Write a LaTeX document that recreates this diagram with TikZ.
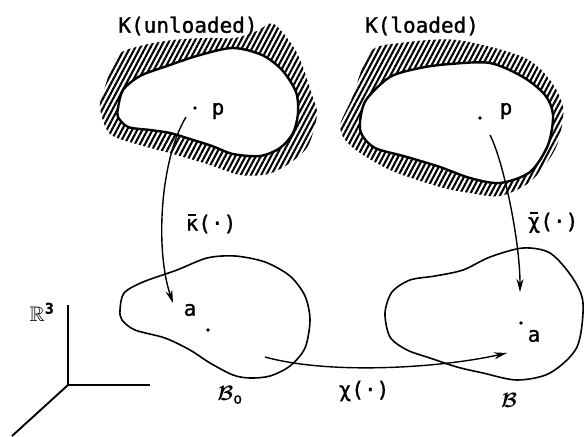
\documentclass[tikz,border=0pt]{standalone}
\usepackage{amsmath,amssymb}
\usepackage{fontspec}
\setmainfont[FakeBold=1.2]{DejaVu Sans Mono}
\usepackage{tikz}
\usetikzlibrary{arrows.meta,patterns.meta}
\newcommand{\ovbar}[1]{\ooalign{#1\cr\hfil\raisebox{0.7em}{\rule{0.4em}{1.6pt}}\hfil\cr}}

\begin{document}
\begin{tikzpicture}[
        x=1pt, y=-1pt,
        font=\fontsize{21}{24}\selectfont,
        hatch/.style={pattern={Lines[angle=62,distance=4.5pt,line width=2.1pt]}, even odd rule},
        inner/.style={line width=2.4pt, line join=round},
        body/.style={line width=1.6pt, line join=round},
        map/.style={line width=1.4pt, -{Stealth[length=13pt,width=7pt]}},
        axis/.style={line width=1.9pt},
        spot/.style={circle, fill, inner sep=1.3pt}
    ]
        \useasboundingbox (0,0) rectangle (585,436);

        % Unloaded configuration K
        \fill[hatch] plot[smooth cycle] coordinates {(100,108) (104,90) (117,56) (140,46) (173,40) (207,38) (235,38) (257,31) (274,24) (297,53) (312,95) (317,115) (308,146) (290,163) (268,174) (240,175) (207,164) (173,154) (140,145) (110,134)}
                     plot[smooth cycle] coordinates {(118,108) (123,90) (140,76) (167,66) (200,55) (233,48) (262,55) (282,70) (296,92) (298,113) (293,133) (280,148) (260,156) (233,154) (212,146) (190,139) (170,133) (150,130) (128,127) (118,117)};
        \draw[inner] plot[smooth cycle] coordinates {(118,108) (123,90) (140,76) (167,66) (200,55) (233,48) (262,55) (282,70) (296,92) (298,113) (293,133) (280,148) (260,156) (233,154) (212,146) (190,139) (170,133) (150,130) (128,127) (118,117)};
        \node (unloaded) at (188,26) {K(unloaded)};
        \node[spot] (p1) at (195,108) {};
        \node (p1lab) at (218,111) {p};

        % Loaded configuration K
        \fill[hatch] plot[smooth cycle] coordinates {(340,127) (352,98) (370,52) (400,43) (457,40) (523,57) (550,80) (563,107) (560,135) (552,155) (530,182) (500,196) (470,193) (440,187) (390,170) (352,147)}
                     plot[smooth cycle] coordinates {(360,122) (366,100) (390,77) (420,68) (450,64) (490,63) (523,77) (545,95) (553,115) (548,145) (530,172) (500,183) (470,178) (440,167) (407,157) (375,148) (362,135)};
        \draw[inner] plot[smooth cycle] coordinates {(360,122) (366,100) (390,77) (420,68) (450,64) (490,63) (523,77) (545,95) (553,115) (548,145) (530,172) (500,183) (470,178) (440,167) (407,157) (375,148) (362,135)};
        \node (loaded) at (422,26) {K(loaded)};
        \node[spot] (p2) at (480,118) {};
        \node (p2lab) at (506,111) {p};

        % Reference body B_o
        \draw[body] plot[smooth cycle] coordinates {(120,310) (124,293) (143,282) (177,270) (207,258) (235,256) (265,262) (290,276) (305,296) (310,320) (305,348) (290,366) (270,376) (250,378) (233,375) (210,363) (190,350) (165,338) (135,330) (122,320)};
        \node[spot] (a1) at (208,330) {};
        \node (a1lab) at (190,310) {a};
        \node (bodyo) at (230,395) {$\boldsymbol{\mathcal{B}}_{\mathrm{o}}$};

        % Current body B
        \draw[body] plot[smooth cycle] coordinates {(385,313) (392,292) (410,280) (435,276) (463,270) (490,257) (523,248) (550,253) (572,277) (583,303) (577,347) (550,373) (517,380) (483,373) (457,367) (430,358) (407,350) (390,337)};
        \node[spot] (a2) at (521,323) {};
        \node (a2lab) at (534,336) {a};
        \node (bodyc) at (509,400) {$\boldsymbol{\mathcal{B}}$};

        % Maps
        \coordinate (k0) at (186,117);
        \coordinate (k1) at (173,303);
        \draw[map] (k0) .. controls (160,160) and (155,250) .. (k1);
        \node (kappa) at (211,224) {\ovbar{κ}(·)};

        \coordinate (c0) at (490,135);
        \coordinate (c1) at (520,292);
        \draw[map] (c0) .. controls (503,160) and (520,240) .. (c1);
        \node (chibar) at (553,222) {\ovbar{χ}(·)};

        \coordinate (m0) at (265,357);
        \coordinate (m1) at (507,353);
        \draw[map] (m0) .. controls (330,375) and (440,368) .. (m1);
        \node (chi) at (364,391) {χ(·)};

        % Frame of R^3
        \coordinate (o) at (68,385);
        \coordinate (ez) at (68,305);
        \coordinate (ex) at (150,385);
        \coordinate (ey) at (12,436);
        \draw[axis] (ez) -- (o) -- (ex);
        \draw[axis] (o) -- (ey);
        \node (space) at (42,312) {$\mathbb{R}^{\mathbf{3}}$};
    \end{tikzpicture}
\end{document}
